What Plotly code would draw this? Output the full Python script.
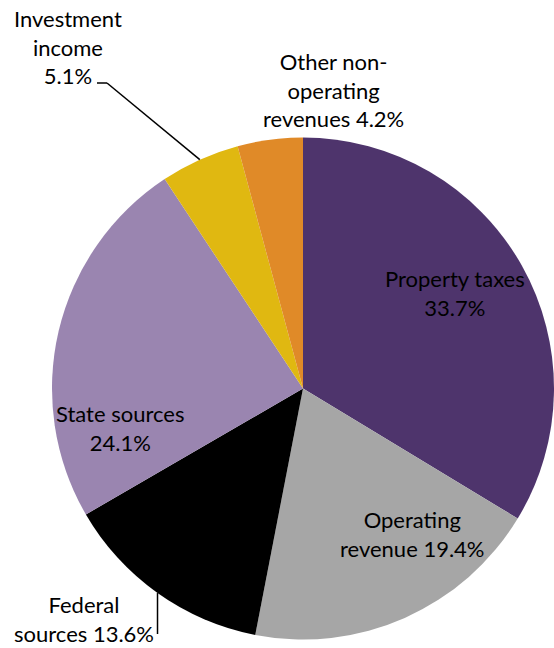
import math
import plotly.graph_objects as go

# Revenue sources (percent of total), clockwise from 12 o'clock
sources = ["Property taxes", "Operating revenue", "Federal sources", "State sources",
           "Investment income", "Other non-operating revenues"]
shares = [33.7, 19.4, 13.6, 24.1, 5.1, 4.2]
colors = ["#4E346C", "#A6A6A6", "#000000", "#9A85B0", "#E0B811", "#E08A28"]

# Label text as wrapped in the chart
label_text = [
    "Property taxes<br>33.7%",
    "Operating<br>revenue 19.4%",
    "Federal<br>sources 13.6%",
    "State sources<br>24.1%",
    "Investment<br>income<br>5.1%",
    "Other non-<br>operating<br>revenues 4.2%",
]

W, H = 554, 648
cx, cy, r = 303, 388.5, 251  # pie centre / radius in pixels

def px(x):
    return x / W

def py(y):
    return 1 - y / H

fig = go.Figure(go.Pie(
    labels=sources,
    values=shares,
    sort=False,
    direction="clockwise",
    rotation=0,
    marker=dict(colors=colors, line=dict(width=0)),
    textinfo="none",
    hoverinfo="label+percent",
    domain=dict(x=[px(cx - r), min(1.0, px(cx + r))], y=[py(cy + r), py(cy - r)]),
    showlegend=False,
))

FONT = dict(family="Lato, Carlito, Open Sans, sans-serif", size=22, color="black")

# label anchor points (pixel centres of text blocks)
label_pos = [
    (455, 293),
    (412, 534),
    (84, 619),
    (120, 428),
    (68, 47),
    (333, 90),
]

annotations = []
for txt, (x, y) in zip(label_text, label_pos):
    annotations.append(dict(
        x=px(x), y=py(y), xref="paper", yref="paper", text=txt,
        showarrow=False, font=FONT, align="center",
        xanchor="center", yanchor="middle",
    ))

# point on the rim at the middle of a slice
def rim_point(idx):
    before = sum(shares[:idx])
    mid = (before + shares[idx] / 2) / sum(shares)
    ang = 2 * math.pi * mid
    return cx + r * math.sin(ang), cy - r * math.cos(ang)

shapes = []
# leader for Investment income
ix, iy = rim_point(4)
shapes.append(dict(type="line", xref="paper", yref="paper",
                   x0=px(97), y0=py(83), x1=px(107), y1=py(83),
                   line=dict(color="black", width=1.5)))
shapes.append(dict(type="line", xref="paper", yref="paper",
                   x0=px(107), y0=py(83), x1=px(ix), y1=py(iy),
                   line=dict(color="black", width=1.5)))
# leader for Federal sources
fx, fy = rim_point(2)
shapes.append(dict(type="line", xref="paper", yref="paper",
                   x0=px(fx), y0=py(fy), x1=px(fx), y1=py(634),
                   line=dict(color="black", width=1.5)))

fig.update_layout(
    width=W, height=H,
    margin=dict(l=0, r=0, t=0, b=0),
    paper_bgcolor="white",
    plot_bgcolor="white",
    annotations=annotations,
    shapes=shapes,
)

fig.write_html("out.html")
